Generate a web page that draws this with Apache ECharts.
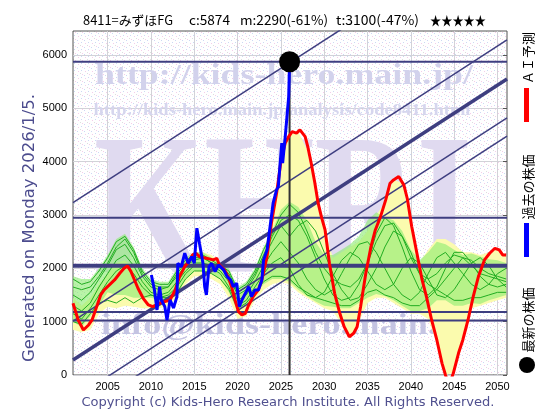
<!DOCTYPE html>
<html><head><meta charset="utf-8">
<script src="https://cdn.jsdelivr.net/npm/echarts@6/dist/echarts.min.js"></script>
<style>html,body{margin:0;padding:0;background:#fff}#c{width:560px;height:420px}</style>
</head><body><div id="c"></div>
<script>
// ---------- data ----------
const yearsAnnual = [];
for (let y = 2001; y <= 2051; y++) yearsAnnual.push(y);

const xTicks = [2005, 2010, 2015, 2020, 2025, 2030, 2035, 2040, 2045, 2050];
const yTicks = [0, 1000, 2000, 3000, 4000, 5000, 6000];

const redYears = [2001.0,2001.6,2002.2,2002.8,2003.2,2003.6,2004.2,2004.6,2005.2,2005.8,2006.4,2006.9,2007.3,2007.7,2008.1,2008.5,2009.1,2009.7,2010.2,2011.0,2011.6,2012.2,2012.8,2013.3,2013.9,2014.5,2014.8,2015.2,2015.6,2016.4,2017.2,2017.6,2017.9,2018.5,2018.9,2019.3,2019.7,2020.1,2020.5,2020.9,2021.2,2021.8,2022.4,2022.8,2023.4,2023.9,2024.5,2025.0,2025.5,2025.9,2026.3,2026.8,2027.2,2027.8,2028.1,2028.5,2028.9,2029.3,2029.7,2030.1,2030.6,2031.2,2031.8,2032.3,2032.9,2033.4,2033.8,2034.2,2034.8,2035.4,2035.9,2036.5,2037.1,2037.6,2038.0,2038.6,2039.2,2039.6,2040.1,2040.7,2041.3,2041.8,2042.4,2043.0,2043.6,2044.0,2044.4,2044.9,2045.5,2046.0,2046.6,2047.2,2047.8,2048.5,2049.1,2049.7,2050.2,2050.6,2051.0];
const redVals  = [1345,1032,844,938,1032,1220,1501,1595,1689,1782,1907,2001,2045,1938,1782,1626,1438,1313,1281,1345,1376,1407,1595,1845,2032,2158,2251,2283,2220,2189,2158,2189,2064,1970,1845,1657,1407,1188,1126,1157,1281,1469,1595,1782,2220,2846,3408,4000,4350,4471,4565,4534,4597,4471,4283,3971,3620,3221,2950,2720,2095,1532,1157,906,718,782,906,1281,1907,2407,2720,2970,3283,3596,3658,3721,3560,3300,2783,2283,1782,1469,1032,657,219,0,-200,31,407,657,1032,1469,1845,2158,2283,2376,2345,2251,2251];

const blueYears = [2010.05,2010.4,2010.7,2011.0,2011.2,2011.6,2011.85,2012.2,2012.6,2013.0,2013.1,2013.5,2013.9,2014.3,2014.7,2015.0,2015.3,2015.6,2016.0,2016.2,2016.4,2016.7,2017.0,2017.4,2017.8,2018.4,2018.8,2019.2,2019.5,2019.9,2020.2,2020.5,2020.9,2021.3,2021.6,2022.0,2022.4,2022.8,2023.0,2023.4,2023.7,2024.1,2024.5,2024.7,2025.1,2025.2,2025.5,2025.9,2026.0];
const blueVals  = [1876,1595,1220,1657,1407,1281,1032,1407,1257,1469,2095,2032,2283,2095,2220,2095,2752,2470,2095,1657,1501,2032,2095,1938,2064,1970,1845,1782,1657,1720,1281,1407,1532,1657,1469,1595,1595,1782,2158,2345,2720,3221,3471,3533,4347,3971,4471,5221,5874];

const latestYear = 2026.0;
const latestPrice = 5874;

const yellowHigh = [1450,1300,1450,1700,1900,2100,2150,2000,1800,1700, 1650,1650,1900,2150,2300,2300,2250,2100,1850,1500, 1600,1850,2300,2950,4000,4500,4560,4230,3520,2750, 2200,2300,2400,2500,2700,3000,3230,3660,3600,2880, 2100,2350,2550,2550,2450,2300,2300,2250,2300,2360,2250];
const yellowLow  = [850,800,850,1150,1280,1250,1300,1280,1250,1250, 1250,1300,1450,1700,1850,1850,1800,1700,1450,1050, 1100,1400,1600,1700,1750,1700,1550,1450,1350,1250, 1200,950,700,1000,1350,1450,1450,1350,1250,1150, 1150,1050,600,0,50,600,1250,1300,1350,1400,1450];

const greenHigh = [1850,1800,1800,2000,2250,2550,2650,2400,2000,1800, 1750,1750,2000,2200,2300,2300,2200,2100,2000,1650, 1750,2000,2400,2700,3100,3250,3150,2900,2500,2250, 2250,2350,2450,2600,2900,3050,2950,2900,2700,2350, 2150,2300,2500,2450,2350,2250,2280,2220,2170,2150,2100];
const greenLow  = [1000,900,1100,1300,1550,1500,1500,1450,1450,1450, 1400,1400,1500,1800,1950,1950,1900,1800,1550,1200, 1300,1500,1700,1800,1800,1750,1600,1480,1380,1300, 1280,1250,1250,1350,1450,1520,1480,1400,1300,1200, 1200,1250,1400,1400,1300,1300,1350,1330,1400,1450,1500];

const green1 = [1800,1700,1750,1950,2200,2500,2600,2350,1950,1750,1700,1700, 1950,2150,2250,2250,2150,2050,1950,1600,1700,1950,2350,2650,3000, 3200,3050,2700,2300,2000,1800,1700,1650,1800,2100,2500,2800,2850,2600,2200,1900,1800,1900,2100,2250,2200,2050,1900,1850,1800,1750];
const green2 = [1500,1400,1550,1800,2050,2350,2450,2200,1850,1650,1600,1650, 1850,2050,2150,2200,2100,2000,1850,1500,1600,1850,2200,2500,2800, 2600,2800,2900,2700,2300,1900,1600,1400,1450,1700,2000,2400,2700,2600,2300,1900,1700,1600,1800,2000,2200,2150,2000,1900,1850,1800];
const green3 = [1300,1200,1350,1650,1900,2150,2250,2050,1750,1550,1500,1550, 1750,1950,2100,2100,2050,1950,1750,1400,1500,1750,2050,2300,2500, 2300,2100,1800,1600,1500,1600,1900,2200,2450,2500,2300,2000,1700,1500,1400,1550,1900,2200,2300,2100,1900,1700,1600,1700,1900,2000];
const green4 = [1150,1050,1250,1500,1750,1950,2050,1900,1650,1500,1450,1500, 1650,1900,2050,2050,2000,1900,1650,1300,1400,1650,1900,2100,2200, 2000,1700,1500,1450,1550,1850,2150,2300,2200,1950,1700,1600,1700,2000,2200,2100,1800,1500,1450,1600,1850,2100,2200,2050,1800,1650];
const green5 = [1650,1600,1650,1850,2100,2400,2550,2300,1900,1700,1650,1650, 1900,2100,2200,2200,2100,2050,1900,1550,1650,1900,2250,2600,2900, 3000,2900,2600,2200,1800,1500,1400,1450,1700,2100,2650,2950,2800,2400,1950,1600,1500,1650,2000,2300,2300,2100,1850,1700,1650,1700];
const green6 = [1000,950,1150,1350,1400,1350,1450,1350,1450,1500,1450,1450, 1550,1800,1950,1950,1900,1800,1600,1250,1350,1550,1750,1850,1850, 1800,1650,1550,1450,1400,1350,1300,1300,1400,1550,1600,1500,1450,1350,1300,1300,1450,1600,1500,1400,1400,1450,1450,1500,1550,1550];
const greenLines = [green1, green2, green3, green4, green5, green6];

const levelValues = [5874, 2950, 2050, 1180, 1020];
const channelStartYear = 2001, channelEndYear = 2051.1;
const channelStart = [3230, 1012, 280, -451, -789];
const channelEnd   = [8490, 6285, 5550, 4820, 4480];

const titleParts = ['8411=みずほFG', 'c:5874', 'm:2290(-61%)', 't:3100(-47%)', '★★★★★'];
const yName = 'Generated on Monday 2026/1/5.';
const copyright = 'Copyright (c) Kids-Hero Research Institute. All Rights Reserved.';
const legendTexts = ['ＡＩ予測', '過去の株価', '最新の株価'];

// ---------- styles ----------
const levelWidths = [2, 2, 4, 2, 2];
const channelWidths = [1.5, 1.5, 3.5, 1.5, 1.5];
const NAVY = '#3e3e80';

function measure(text, font) {
  const c = document.createElement('canvas').getContext('2d');
  c.font = font; return c.measureText(text).width;
}
// speckled tile for plot background
const tile = document.createElement('canvas'); tile.width = 7; tile.height = 7;
(function(){const t = tile.getContext('2d'); t.fillStyle = '#ffffff'; t.fillRect(0,0,7,7);
 t.fillStyle = '#f5cdea'; t.fillRect(1,1,1,1); t.fillRect(5,4,1,1);
 t.fillStyle = '#ccd8f4'; t.fillRect(4,0,1,1); t.fillRect(0,5,1,1);
 t.fillStyle = '#dddddd'; t.fillRect(3,3,1,1);})();

function pairs(xs, ys) { return xs.map((x, i) => [x, ys[i]]); }
function bandSeries(hi, lo, color) {
  return {
    type: 'custom', silent: true, data: [[yearsAnnual[0], lo[0]]],
    renderItem: function (params, api) {
      const pts = [];
      for (let i = 0; i < yearsAnnual.length; i++) pts.push(api.coord([yearsAnnual[i], hi[i]]));
      for (let i = yearsAnnual.length - 1; i >= 0; i--) pts.push(api.coord([yearsAnnual[i], lo[i]]));
      return { type: 'polygon', shape: { points: pts }, style: { fill: color } };
    }
  };
}
function lineS(data, color, width) {
  return { type: 'line', data: data, symbol: 'none', silent: true, clip: true,
    lineStyle: { color: color, width: width }, itemStyle: { color: color } };
}

const series = [];
series.push(bandSeries(yellowHigh, yellowLow, '#fbfbae'));
series.push(bandSeries(greenHigh, greenLow, 'rgba(140,236,115,0.62)'));
greenLines.forEach(g => series.push(lineS(pairs(yearsAnnual, g), '#22ad22', 1)));
levelValues.forEach((v, i) => series.push(lineS([[channelStartYear, v], [channelEndYear, v]], NAVY, levelWidths[i])));
channelStart.forEach((v, i) => series.push(lineS([[channelStartYear, v], [channelEndYear, channelEnd[i]]], NAVY, channelWidths[i])));
series.push(lineS([[latestYear, 0], [latestYear, latestPrice]], '#333333', 2));
series.push(lineS(pairs(redYears, redVals), '#ff0000', 3));
series.push(lineS(pairs(blueYears, blueVals), '#0000ff', 3));
series.push({ type: 'scatter', data: [[latestYear, latestPrice]], symbolSize: 21, silent: true,
  itemStyle: { color: '#000', opacity: 1 }, z: 5 });

// ---------- graphics ----------
const wmFont1 = 'bold 30px "Liberation Serif"';
const wmFont2 = 'bold 16px "Liberation Serif"';
const wmFont4 = 'bold 30px "Liberation Serif"';
const khriFont = 'bold 220px "Liberation Serif"';
function wm(text, font, cx, cy, width, color, scaleY) {
  const s = width / measure(text, font);
  return { type: 'text', x: cx, y: cy, scaleX: s, scaleY: scaleY || 1, z: 1, silent: true,
    style: { text: text, font: font, fill: color, align: 'center', verticalAlign: 'middle', textAlign: 'center', textVerticalAlign: 'middle' } };
}
const graphics = [
  wm('KHRI', khriFont, 283, 220, 378, '#e0daf0', 0.92),
  wm('http://kids-hero.main.jp/', wmFont1, 284, 76, 378, '#d2d2ec'),
  wm('http://kids-hero.main.jp/analysis/code8411.html', wmFont2, 282, 111, 377, '#d6d6ee'),
  wm('info@kids-hero.main.jp', wmFont4, 285, 326, 368, '#c4c4e2')
];
const titleX = [83, 189, 240, 336, 430];
const titleW = [90, 41, 88, 83, 56];
titleParts.forEach((t, i) => {
  const f = '13px "Noto Sans CJK JP"';
  graphics.push({ type: 'text', x: titleX[i], y: 20, scaleX: titleW[i] / measure(t, f), z: 10, silent: true,
    style: { text: t, font: f, fill: '#000', align: 'left', verticalAlign: 'middle', textAlign: 'left', textVerticalAlign: 'middle' } });
});
const ynFont = '15px "DejaVu Sans"';
graphics.push({ type: 'text', x: 30, y: 228, rotation: Math.PI / 2, scaleX: 268 / measure(yName, ynFont), z: 10, silent: true,
  style: { text: yName, font: ynFont, fill: '#4c4c8e', align: 'center', verticalAlign: 'middle', textAlign: 'center', textVerticalAlign: 'middle' } });
const cpFont = '13px "DejaVu Sans"';
graphics.push({ type: 'text', x: 288, y: 403, scaleX: 413 / measure(copyright, cpFont), z: 10, silent: true,
  style: { text: copyright, font: cpFont, fill: '#50508f', align: 'center', verticalAlign: 'middle', textAlign: 'center', textVerticalAlign: 'middle' } });
// legend
graphics.push({ type: 'rect', shape: { x: 524, y: 88, width: 5, height: 34 }, style: { fill: '#ff0000' }, z: 10, silent: true });
graphics.push({ type: 'rect', shape: { x: 524, y: 223, width: 5, height: 34 }, style: { fill: '#0000ff' }, z: 10, silent: true });
graphics.push({ type: 'circle', shape: { cx: 527, cy: 365, r: 8 }, style: { fill: '#000' }, z: 10, silent: true });
const legY = [58, 187, 320];
legendTexts.forEach((t, i) => graphics.push({ type: 'text', x: 528, y: legY[i], rotation: Math.PI / 2, z: 10, silent: true,
  style: { text: t, font: '13px "Noto Sans CJK JP"', fill: '#000', align: 'center', verticalAlign: 'middle', textAlign: 'center', textVerticalAlign: 'middle' } }));

const plain = v => String(v);
const chart = echarts.init(document.getElementById('c'), null, { renderer: 'canvas' });
chart.setOption({
  animation: false,
  backgroundColor: '#ffffff',
  grid: { left: 73, right: 53, top: 31, bottom: 45, show: true,
    backgroundColor: { image: tile, repeat: 'repeat' }, borderColor: '#555', borderWidth: 1 },
  xAxis: { type: 'value', min: 2001, max: 2051.1,
    axisLine: { show: false },
    axisTick: { show: false, customValues: xTicks },
    axisLabel: { customValues: xTicks, formatter: plain, color: '#000', fontSize: 11, fontFamily: 'Liberation Sans', margin: 6 },
    splitLine: { show: true, lineStyle: { color: '#d2d2d8', width: 1 } } },
  yAxis: [
    { type: 'value', min: 0, max: 6450,
      axisLine: { show: false },
      axisTick: { show: false, customValues: yTicks },
      axisLabel: { customValues: yTicks, formatter: plain, color: '#000', fontSize: 11, fontFamily: 'Liberation Sans', margin: 6 },
      splitLine: { show: true, lineStyle: { color: '#d2d2d8', width: 1 } } },
    { type: 'value', min: 0, max: 6450, position: 'right',
      axisLine: { show: false },
      axisTick: { show: true, inside: true, length: 4, customValues: yTicks, lineStyle: { color: '#555' } },
      axisLabel: { show: false }, splitLine: { show: false } }
  ],
  series: series,
  graphic: graphics
});
</script></body></html>
